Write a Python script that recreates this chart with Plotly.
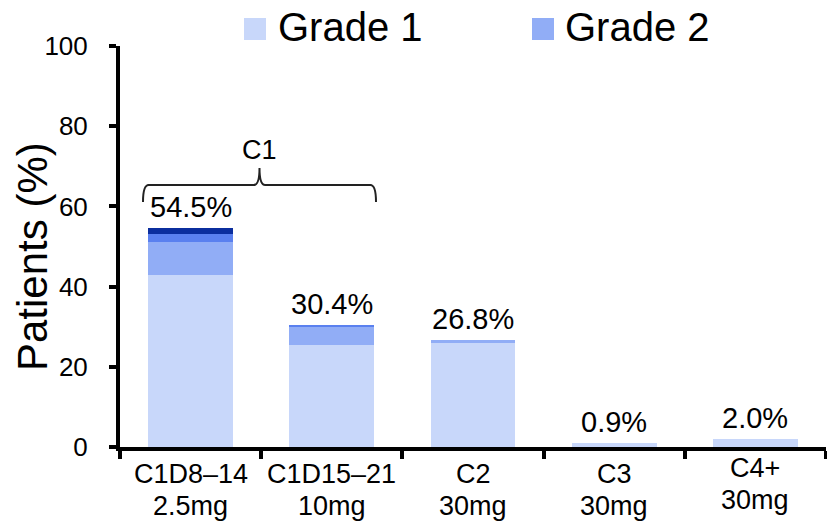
import plotly.graph_objects as go

categories = ["C1D8–14<br>2.5mg", "C1D15–21<br>10mg", "C2<br>30mg", "C3<br>30mg", "C4+<br>30mg"]
grade1 = [42.9, 25.4, 25.9, 0.9, 2.0]
grade2 = [8.2, 4.5, 0.9, 0.0, 0.0]
grade3 = [2.0, 0.5, 0.0, 0.0, 0.0]
grade4 = [1.4, 0.0, 0.0, 0.0, 0.0]
total_labels = ["54.5%", "30.4%", "26.8%", "0.9%", "2.0%"]
totals = [a + b + c + d for a, b, c, d in zip(grade1, grade2, grade3, grade4)]

FONT = "Liberation Sans, Arial, sans-serif"
C1, C2, C3, C4 = "#C8D7FA", "#91ADF6", "#5A80EF", "#0B2E9E"

fig = go.Figure()
for name, vals, col in [("Grade 1", grade1, C1), ("Grade 2", grade2, C2),
                        ("Grade 3", grade3, C3), ("Grade 4", grade4, C4)]:
    fig.add_trace(go.Bar(x=categories, y=vals, name=name, marker_color=col,
                         marker_line_width=0, width=0.6, showlegend=False))

for cat, tot, lab in zip(categories, totals, total_labels):
    fig.add_annotation(x=cat, y=tot, text=lab, showarrow=False, yanchor="bottom",
                       yshift=3, font=dict(size=29, color="black", family=FONT))

def px2x(px):
    return (px - 120) / 706.0

def py2y(py):
    return (447 - py) / 401.0

# category labels (two lines, tight spacing as in the original)
for i, cat in enumerate(categories):
    raise_px = 6 if i == len(categories) - 1 else 0
    for line, cy in zip(cat.split("<br>"), (474, 506)):
        fig.add_annotation(x=cat, xref="x", yref="paper", y=py2y(cy - raise_px), text=line,
                           showarrow=False, xanchor="center", yanchor="middle",
                           font=dict(size=27, color="black", family=FONT))

# manual legend
for name, col, sq_x, tx in [("Grade 1", C1, 244, 276), ("Grade 2", C2, 532, 563)]:
    fig.add_shape(type="rect", xref="paper", yref="paper",
                  x0=px2x(sq_x), x1=px2x(sq_x + 22), y0=py2y(40), y1=py2y(18),
                  fillcolor=col, line_width=0)
    fig.add_annotation(xref="paper", yref="paper", x=px2x(tx), y=py2y(27), text=name,
                       showarrow=False, xanchor="left", yanchor="middle",
                       font=dict(size=40, color="black", family=FONT))

# bracket for C1
xl, xr, xc = px2x(143), px2x(376), px2x(259.5)
yh, ye, yp = py2y(185), py2y(202), py2y(168)
dx = 0.008
path = (f"M {xl},{ye} Q {xl},{yh} {xl+dx},{yh} L {xc-dx},{yh} Q {xc},{yh} {xc},{yp} "
        f"Q {xc},{yh} {xc+dx},{yh} L {xr-dx},{yh} Q {xr},{yh} {xr},{ye}")
fig.add_shape(type="path", xref="paper", yref="paper", path=path,
              line=dict(color="#222222", width=2))
fig.add_annotation(xref="paper", yref="paper", x=xc, y=py2y(150), text="C1",
                   showarrow=False, xanchor="center", yanchor="middle",
                   font=dict(size=27, color="black", family=FONT))

# y-axis title
fig.add_annotation(xref="paper", yref="paper", x=px2x(32), y=py2y(257), text="Patients (%)",
                   textangle=-90, showarrow=False, xanchor="center", yanchor="middle",
                   font=dict(size=42, color="black", family=FONT))

fig.update_layout(
    barmode="stack",
    width=827, height=522,
    margin=dict(l=120, r=1, t=46, b=75, autoexpand=False),
    paper_bgcolor="white", plot_bgcolor="white",
    font=dict(family=FONT, color="black"),
    showlegend=False,
    bargap=0.4,
)
fig.update_xaxes(showline=True, linecolor="black", linewidth=4, ticks="outside",
                 tickson="boundaries", ticklen=8, tickwidth=4, tickcolor="black",
                 showticklabels=False, showgrid=False, range=[-0.5, 4.5])
fig.update_yaxes(range=[0, 100], tickvals=[0, 20, 40, 60, 80, 100], showline=True,
                 linecolor="black", linewidth=4, ticks="outside", ticklen=7, tickwidth=4,
                 tickcolor="black", tickfont=dict(size=26, family=FONT, color="black"),
                 showgrid=False, zeroline=False, ticklabelstandoff=16)

fig.write_html("out.html", config={"displayModeBar": False},
               post_script="document.body.style.margin='0px';document.body.style.overflow='hidden';")
